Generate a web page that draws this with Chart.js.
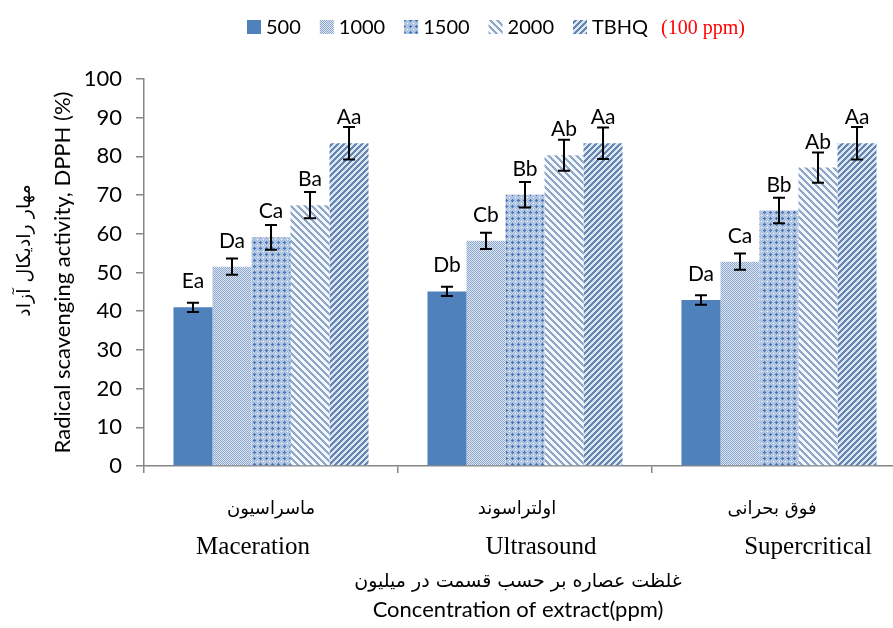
<!DOCTYPE html>
<html lang="fa">
<head>
<meta charset="UTF-8" />
<title>DPPH radical scavenging</title>
<script src="https://cdn.jsdelivr.net/npm/chart.js"></script>
<style>
    html, body {
        margin: 0;
        padding: 0;
        background: #ffffff;
        overflow: hidden;
        width: 893px;
        height: 628px;
    }
    #wrap {
        position: absolute;
        left: 0;
        top: 0;
        width: 912px;
        height: 628px;
    }
</style>
</head>
<body>
<div id="wrap"><canvas id="chart" width="912" height="628"></canvas></div>
<script>
// categories and series
const categories = ['Maceration', 'Ultrasound', 'Supercritical'];
const categoriesFa = ['ماسراسیون', 'اولتراسوند', 'فوق بحرانی'];
const seriesNames = ['500', '1000', '1500', '2000', 'TBHQ'];

// mean values (%)
const v500  = [41.0, 45.1, 42.9];
const v1000 = [51.5, 58.2, 52.8];
const v1500 = [59.1, 70.1, 66.0];
const v2000 = [67.4, 80.3, 77.1];
const vTBHQ = [83.4, 83.4, 83.4];

// error (+/-)
const e500  = [1.2, 1.2, 1.25];
const e1000 = [2.1, 2.1, 2.1];
const e1500 = [3.2, 3.3, 3.3];
const e2000 = [3.4, 4.0, 3.9];
const eTBHQ = [4.2, 4.1, 4.2];

// significance letters
const l500  = ['Ea', 'Db', 'Da'];
const l1000 = ['Da', 'Cb', 'Ca'];
const l1500 = ['Ca', 'Bb', 'Bb'];
const l2000 = ['Ba', 'Ab', 'Ab'];
const lTBHQ = ['Aa', 'Aa', 'Aa'];

const yTicks = [0, 10, 20, 30, 40, 50, 60, 70, 80, 90, 100];

const AXIS = '#868686';

function hexRgb(h) {
    return [parseInt(h.substr(1, 2), 16), parseInt(h.substr(3, 2), 16), parseInt(h.substr(5, 2), 16)];
}

// builds a pattern tile; pick(x, y) returns the colour for that pixel
function makePattern(size, pick) {
    const c = document.createElement('canvas');
    c.width = size; c.height = size;
    const ctx = c.getContext('2d');
    const img = ctx.createImageData(size, size);
    for (let y = 0; y < size; y++) {
        for (let x = 0; x < size; x++) {
            const col = hexRgb(pick(x, y));
            const i = (y * size + x) * 4;
            img.data[i] = col[0]; img.data[i + 1] = col[1]; img.data[i + 2] = col[2]; img.data[i + 3] = 255;
        }
    }
    ctx.putImageData(img, 0, 0);
    return document.getElementById('chart').getContext('2d').createPattern(c, 'repeat');
}

const fills = [
    '#4f81bd',
    // fine checker
    makePattern(2, (x, y) => (x + y) % 2 === 0 ? '#8aa6cc' : '#dfe7f2'),
    // little crosses
    makePattern(6, (x, y) => {
        if ((x === 2 && y >= 1 && y <= 3) || (y === 2 && x >= 1 && x <= 3)) return '#4a78b4';
        if (x === 5 && y === 5) return '#f4f7fb';
        return (x + y) % 2 === 0 ? '#9db5d8' : '#c3d3e9';
    }),
    // light downward diagonal
    makePattern(7, (x, y) => ((x - y + 14) % 7) < 3 ? '#8fa8c8' : '#f4f8fc'),
    // upward diagonal
    makePattern(6, (x, y) => ((x + y) % 6) < 3 ? '#6686b2' : '#dce7f3')
];

const values = [v500, v1000, v1500, v2000, vTBHQ];
const errors = [e500, e1000, e1500, e2000, eTBHQ];
const letters = [l500, l1000, l1500, l2000, lTBHQ];

const datasets = seriesNames.map((name, i) => ({
    label: name,
    data: values[i],
    backgroundColor: fills[i],
    borderWidth: 0,
    categoryPercentage: 0.768,
    barPercentage: 1.0
}));

const extras = {
    id: 'extras',
    afterDatasetsDraw(chart) {
        const ctx = chart.ctx;
        const y = chart.scales.y;
        ctx.save();
        chart.data.datasets.forEach((ds, i) => {
            const meta = chart.getDatasetMeta(i);
            meta.data.forEach((bar, j) => {
                const v = ds.data[j];
                const e = errors[i][j];
                const top = y.getPixelForValue(v + e);
                const bot = y.getPixelForValue(v - e);
                ctx.strokeStyle = '#000';
                ctx.lineWidth = 2;
                ctx.beginPath();
                ctx.moveTo(bar.x, top); ctx.lineTo(bar.x, bot);
                ctx.moveTo(bar.x - 6, top); ctx.lineTo(bar.x + 6, top);
                ctx.moveTo(bar.x - 6, bot); ctx.lineTo(bar.x + 6, bot);
                ctx.stroke();
                ctx.fillStyle = '#000';
                ctx.font = '21px Lato';
                ctx.textAlign = 'center';
                ctx.textBaseline = 'alphabetic';
                ctx.fillText(letters[i][j], bar.x, y.getPixelForValue(v) - 19);
            });
        });
        ctx.restore();
    },
    afterDraw(chart) {
        const ctx = chart.ctx;
        const x = chart.scales.x;
        const area = chart.chartArea;
        ctx.save();
        ctx.fillStyle = '#000';

        // y titles
        const cy = (area.top + area.bottom) / 2;
        ctx.save();
        ctx.translate(70, cy);
        ctx.rotate(-Math.PI / 2);
        ctx.textAlign = 'center';
        ctx.textBaseline = 'alphabetic';
        ctx.font = '22px Lato';
        ctx.fillText('Radical scavenging activity, DPPH (%)', 0, 0);
        ctx.restore();
        ctx.save();
        ctx.translate(30, cy - 22);
        ctx.rotate(-Math.PI / 2);
        ctx.textAlign = 'center';
        ctx.font = '19px "DejaVu Sans"';
        ctx.direction = 'rtl';
        ctx.fillText('مهار رادیکال آزاد', 0, 0);
        ctx.restore();

        // category labels
        const faShift = [0, -8, -7];
        const enShift = [-18, 16, 29];
        categories.forEach((c, i) => {
            const px = x.getPixelForValue(i);
            ctx.textAlign = 'center';
            ctx.font = '18px "DejaVu Sans"';
            ctx.fillText(categoriesFa[i], px + faShift[i], 514);
            ctx.font = '25px "Liberation Serif"';
            ctx.fillText(c, px + enShift[i], 554);
        });

        // x titles
        ctx.font = '19px "DejaVu Sans"';
        ctx.fillText('غلظت عصاره بر حسب قسمت در میلیون', 518, 587);
        ctx.font = '22px Lato';
        ctx.fillText('Concentration of extract(ppm)', 518, 617);

        // legend
        let lx = 247;
        ctx.textAlign = 'left';
        ctx.textBaseline = 'middle';
        ctx.font = '20px Lato';
        seriesNames.forEach((n, i) => {
            ctx.fillStyle = fills[i];
            ctx.fillRect(lx, 20, 14, 14);
            ctx.fillStyle = '#000';
            ctx.fillText(n, lx + 19, 28);
            lx += 19 + ctx.measureText(n).width + 19;
        });
        ctx.fillStyle = '#ff0000';
        ctx.font = '20px "Liberation Serif"';
        ctx.fillText('(100 ppm)', lx - 6, 29);
        ctx.restore();
    }
};

new Chart(document.getElementById('chart'), {
    type: 'bar',
    data: { labels: categories, datasets },
    options: {
        responsive: false,
        animation: false,
        devicePixelRatio: 1,
        layout: { padding: { left: 0, right: 6, top: 79, bottom: 0 } },
        plugins: {
            legend: { display: false },
            tooltip: { enabled: false }
        },
        scales: {
            x: {
                ticks: { display: false },
                grid: { drawOnChartArea: false, drawTicks: true, tickLength: 7, color: AXIS, lineWidth: 1.5, offset: true },
                border: { color: AXIS, width: 1.5 },
                afterFit(s) { s.height = 162; }
            },
            y: {
                min: 0,
                max: 100,
                afterBuildTicks(s) { s.ticks = yTicks.map(v => ({ value: v })); },
                ticks: { color: '#000', font: { family: 'Lato', size: 22 }, padding: 14 },
                grid: { drawOnChartArea: false, drawTicks: true, tickLength: 8, color: AXIS, lineWidth: 1.5 },
                border: { color: AXIS, width: 1.5 },
                afterFit(s) { s.width = 144; }
            }
        }
    },
    plugins: [extras]
});
</script>
</body>
</html>
